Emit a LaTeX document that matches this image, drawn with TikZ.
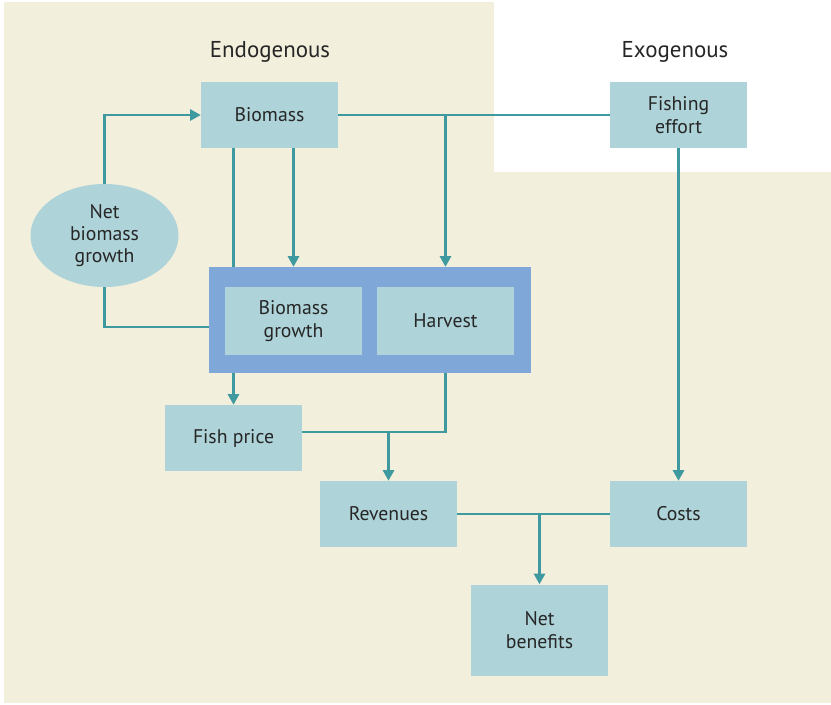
\documentclass[tikz,border=0pt]{standalone}
\usepackage{fontspec}
\setmainfont{PT Sans}
\usetikzlibrary{arrows.meta,shapes.geometric,calc}
\definecolor{beige}{HTML}{F2EFDD}
\definecolor{boxfill}{HTML}{AED3D9}
\definecolor{linec}{HTML}{3F9AA0}
\definecolor{framec}{HTML}{7FA7D8}
\definecolor{txt}{HTML}{262626}
\tikzset{
  box/.style={fill=boxfill, draw=none, align=center, text=txt, inner sep=0pt,
    minimum width={137*0.75pt}, minimum height={66*0.75pt}, font=\fontsize{14.8}{17}\selectfont},
  conn/.style={draw=linec, line width=1.6pt},
  arr/.style={conn, -{Triangle[length=8pt,width=8.5pt]}},
  head/.style={text=txt, font=\fontsize{17.2}{20}\selectfont}
}
\begin{document}
\begin{tikzpicture}[x=0.75pt,y=-0.75pt]
\useasboundingbox (0,0) rectangle (831,704);
\fill[beige] (4,2) rectangle (831,703);
\fill[white] (494,0) rectangle (831,172);
\node[head] (endo) at (270,52) {Endogenous};
\node[head] (exo) at (675,52) {Exogenous};
\node[box] (bio) at (269.5,115) {Biomass};
\node[box] (fish) at (678.5,115) {Fishing\\effort};
\node[ellipse, fill=boxfill, inner sep=0pt, minimum width={148*0.75pt}, minimum height={103*0.75pt}, align=center, text=txt, font=\fontsize{14.8}{16.5}\selectfont] (ell) at (104.5,235.5) {Net\\biomass\\growth};
\node[fill=framec, inner sep=0pt, minimum width={322*0.75pt}, minimum height={106*0.75pt}] (frame) at (370,320) {};
\node[box, minimum height={68*0.75pt}] (bg) at (293.5,321) {Biomass\\growth};
\node[box, minimum height={68*0.75pt}] (hv) at (445.5,321) {Harvest};
\node[box] (price) at (233.5,438) {Fish price};
\node[box] (rev) at (388.5,514) {Revenues};
\node[box] (costs) at (678.5,514) {Costs};
\node[box, minimum height={91*0.75pt}] (net) at (539.5,630) {Net\\benefits};
% connectors
\draw[arr] (ell.north) |- (bio.west);
\draw[conn] (bio.east) -- (fish.west);
\draw[conn] (bio.south -| price.north) -- (frame.north -| price.north);
\draw[arr] (bio.south -| bg.north) -- (frame.north -| bg.north);
\draw[arr] (bio.east -| hv.north) -- (frame.north -| hv.north);
\draw[conn] (ell.south) |- ([yshift=-5.25pt]frame.west);
\draw[arr] (frame.south -| price.north) -- (price.north);
\coordinate (m1) at ([yshift=4.5pt]price.east);
\draw[conn] (frame.south -| hv.north) |- (m1);
\draw[arr] (m1 -| rev.north) -- (rev.north);
\draw[arr] (fish.south) -- (costs.north);
\draw[conn] (rev.east) -- (costs.west);
\draw[arr] (rev.east -| net.north) -- (net.north);
\end{tikzpicture}
\end{document}
